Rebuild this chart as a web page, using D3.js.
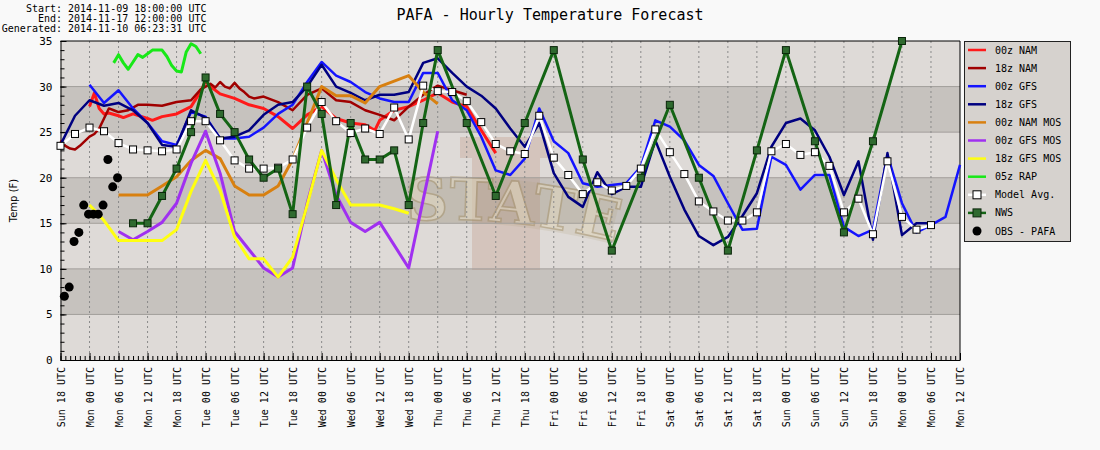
<!DOCTYPE html>
<html lang="en">
<head>
<meta charset="utf-8">
<title>PAFA - Hourly Temperature Forecast</title>
<script src="https://cdn.jsdelivr.net/npm/d3@7/dist/d3.min.js"></script>
<style>
  body { margin: 0; background: #f9f9f9; }
  svg { display: block; }
</style>
</head>
<body>
<svg width="1100" height="450" id="mainsvg"></svg>
<script>
// hours counted from Sun 18 UTC (2014-11-09 18:00)
const tickLabels = ['Sun 18 UTC', 'Mon 00 UTC', 'Mon 06 UTC', 'Mon 12 UTC', 'Mon 18 UTC',
  'Tue 00 UTC', 'Tue 06 UTC', 'Tue 12 UTC', 'Tue 18 UTC', 'Wed 00 UTC', 'Wed 06 UTC',
  'Wed 12 UTC', 'Wed 18 UTC', 'Thu 00 UTC', 'Thu 06 UTC', 'Thu 12 UTC', 'Thu 18 UTC',
  'Fri 00 UTC', 'Fri 06 UTC', 'Fri 12 UTC', 'Fri 18 UTC', 'Sat 00 UTC', 'Sat 06 UTC',
  'Sat 12 UTC', 'Sat 18 UTC', 'Sun 00 UTC', 'Sun 06 UTC', 'Sun 12 UTC', 'Sun 18 UTC',
  'Mon 00 UTC', 'Mon 06 UTC', 'Mon 12 UTC'];
const yTicks = [0, 5, 10, 15, 20, 25, 30, 35];
const headerLabels = ['Start:', 'End:', 'Generated:'];
const headerValues = ['2014-11-09 18:00:00 UTC', '2014-11-17 12:00:00 UTC', '2014-11-10 06:23:31 UTC'];

// [hour, temp F]
const nam00 = [[6,27.8],[7,29.3],[8,27.6],[9,27.0],[10,27.1],[12,26.8],[13,26.6],[15,27.0],[18,26.5],
  [19,26.3],[21,26.7],[24,27.0],[27,27.8],[29,29.5],[30,30.6],[31,30.0],[33,29.2],[36,28.7],[39,28.0],
  [42,27.6],[45,26.7],[48,25.4],[51,26.9],[54,27.8],[57,26.5],[60,26.0],[63,25.8],[65,25.2],[66,26.3],
  [69,27.4],[72,27.8],[75,28.5],[78,29.3],[81,28.3],[84,27.8],[87,25.2],[90,22.7]];
const nam18 = [[0,24.1],[1,23.5],[2,23.2],[3,23.1],[4,23.5],[6,24.5],[7,24.8],[8,25.4],[9,26.5],[10,27.6],
  [11,27.4],[12,27.2],[14,27.4],[16,28.0],[18,28.0],[21,27.9],[24,28.3],[27,28.5],[29,29.7],[30,30.0],
  [31,30.3],[32,29.9],[33,30.5],[34,30.0],[35,29.8],[36,30.4],[37,29.8],[38,29.4],[39,28.9],[40,28.7],
  [42,28.9],[45,28.3],[48,27.4],[51,29.1],[54,29.8],[57,28.5],[60,28.3],[63,27.4],[66,26.9],[69,26.3],
  [72,27.8],[75,29.1],[78,30.1],[81,29.6],[84,29.1]];
const gfs00 = [[6,30.2],[9,28.2],[12,29.6],[15,27.6],[18,26.0],[21,24.0],[24,23.6],[27,27.2],[30,26.7],
  [33,24.3],[36,24.3],[39,24.5],[42,25.5],[45,27.0],[48,28.0],[51,30.5],[54,32.7],[57,31.2],[60,30.5],
  [63,29.4],[66,28.7],[69,28.3],[72,28.3],[75,31.5],[78,31.5],[81,28.5],[84,27.4],[87,24.5],[90,20.8],
  [93,20.3],[96,22.1],[99,27.6],[102,24.0],[105,22.7],[108,19.4],[111,19.0],[114,19.2],[117,19.4],
  [120,21.2],[123,26.3],[126,25.6],[129,24.1],[132,21.4],[135,20.2],[138,17.2],[141,14.3],[144,14.4],
  [147,22.3],[150,21.4],[153,18.7],[156,20.3],[159,20.3],[162,14.6],[165,13.6],[168,14.3],[171,22.5],
  [174,17.2],[177,14.0],[180,14.8],[183,15.7],[186,21.4]];
const gfs18 = [[0,23.6],[3,26.8],[6,28.5],[9,27.9],[12,28.2],[15,27.4],[18,26.0],[21,23.6],[24,23.4],
  [27,27.4],[30,26.6],[33,24.3],[36,24.5],[39,25.2],[42,26.9],[45,28.0],[48,28.3],[51,30.0],[54,32.4],
  [57,30.0],[60,29.3],[63,28.5],[66,29.1],[69,29.1],[72,29.4],[75,32.6],[78,33.1],[81,31.5],[84,30.0],
  [87,29.0],[90,27.6],[93,25.4],[96,23.4],[99,26.0],[102,20.5],[105,17.9],[108,16.8],[111,20.6],
  [114,18.2],[117,19.0],[120,19.0],[123,24.1],[126,20.1],[129,16.5],[132,13.6],[135,12.6],[138,13.5],
  [141,15.8],[144,18.3],[147,23.4],[150,26.0],[153,26.5],[156,25.2],[159,22.3],[162,18.1],[165,21.8],
  [168,13.2],[171,22.7],[174,13.7],[177,15.0],[180,15.0]];
const namMos00 = [[12,18.1],[15,18.1],[18,18.1],[21,19.1],[24,20.1],[27,21.9],[30,23.0],[33,22.1],
  [36,19.1],[39,18.1],[42,18.1],[45,19.1],[48,22.0],[51,26.0],[54,30.0],[57,29.0],[60,29.0],[63,28.2],
  [66,30.0],[69,30.6],[72,31.2],[75,29.4],[78,28.1]];
const gfsMos00 = [[12,14.1],[15,13.2],[18,14.1],[21,15.1],[24,17.2],[27,21.6],[30,25.1],[33,20.5],
  [36,14.1],[39,12.1],[42,10.1],[45,9.1],[48,10.1],[51,17.2],[54,23.0],[57,18.1],[60,15.1],[63,14.1],
  [66,15.1],[69,12.6],[72,10.1],[75,17.6],[78,25.1]];
const gfsMos18 = [[6,17.0],[9,15.3],[12,13.1],[15,13.1],[18,13.1],[21,13.1],[24,14.3],[27,18.5],
  [30,21.9],[33,18.6],[36,13.5],[39,11.1],[42,11.1],[45,9.1],[48,11.3],[51,17.0],[54,23.0],[57,19.8],
  [60,17.0],[63,17.0],[66,17.0],[69,16.6],[72,16.1]];
const rap05 = [[11,32.6],[12,33.5],[13,32.6],[14,31.9],[15,32.7],[16,33.5],[17,33.2],[18,33.6],[19,34.0],
  [20,34.0],[21,34.0],[22,33.3],[23,32.3],[24,31.7],[25,31.6],[26,33.8],[27,34.7],[28,34.4],[29,33.6]];
const modelAvg = [[0,23.5],[3,24.8],[6,25.5],[9,25.1],[12,23.8],[15,23.1],[18,23.0],[21,22.9],[24,23.1],
  [27,26.2],[30,26.2],[33,24.1],[36,21.9],[39,21.0],[42,21.0],[45,21.1],[48,22.0],[51,25.5],[54,28.3],
  [57,26.2],[60,24.9],[63,25.4],[66,24.8],[69,27.7],[72,24.2],[75,30.1],[78,29.5],[81,29.4],[84,28.4],
  [87,26.1],[90,23.7],[93,22.9],[96,22.6],[99,26.8],[102,22.2],[105,20.3],[108,18.2],[111,19.5],
  [114,18.6],[117,19.1],[120,21.0],[123,25.3],[126,22.8],[129,20.4],[132,17.4],[135,16.3],[138,15.3],
  [141,15.3],[144,16.2],[147,22.9],[150,23.7],[153,22.5],[156,22.8],[159,21.3],[162,16.2],[165,17.7],
  [168,13.8],[171,21.8],[174,15.7],[177,14.3],[180,14.8]];
const nws = [[15,15],[18,15],[21,18],[24,21],[27,25],[30,31],[33,27],[36,25],[39,22],[42,20],[45,21],
  [48,16],[51,30],[54,27],[57,17],[60,26],[63,22],[66,22],[69,23],[72,17],[75,26],[78,34],[84,26],
  [90,18],[96,26],[102,34],[108,22],[114,12],[120,20],[126,28],[132,20],[138,12],[144,23],[150,34],
  [156,24],[162,14],[168,24],[174,35]];
const obs = [[0.8,7],[1.8,8],[2.8,13],[3.8,14],[4.8,17],[5.8,16],[6.8,16],[7.8,16],[8.8,17],[9.8,22],
  [10.8,19],[11.8,20]];

const legendNames = ['00z NAM', '18z NAM', '00z GFS', '18z GFS', '00z NAM MOS', '00z GFS MOS',
  '18z GFS MOS', '05z RAP', 'Model Avg.', 'NWS', 'OBS - PAFA'];
const lineSeries = [nam00, nam18, gfs00, gfs18, namMos00, gfsMos00, gfsMos18, rap05];
const lineColors = ['#ff1a1a', '#a00000', '#1414ff', '#000080', '#d88010', '#a030f0', '#ffff10', '#18e818'];
const lineWidths = [3, 2.5, 2.5, 2.5, 3, 3, 3, 3];

const svg = d3.select('#mainsvg');
const margin = { top: 41, left: 60.5 };
const plotRight = 960, plotBottom = 360;

const x = d3.scaleLinear().domain([0, 186]).range([margin.left, plotRight]);
const y = d3.scaleLinear().domain([0, 35]).range([plotBottom, margin.top]);

// header text
const mono = 'DejaVu Sans Mono, monospace';
headerLabels.forEach((t, i) => {
  svg.append('text').text(t).attr('x', 62).attr('y', 11.5 + i * 10)
    .attr('text-anchor', 'end').attr('font-family', mono).attr('font-size', 10);
  svg.append('text').text(headerValues[i]).attr('x', 68).attr('y', 11.5 + i * 10)
    .attr('font-family', mono).attr('font-size', 10);
});
svg.append('text').text('PAFA - Hourly Temperature Forecast')
  .attr('x', 550).attr('y', 19.5).attr('text-anchor', 'middle')
  .attr('font-family', mono).attr('font-size', 15);

// background bands
const g = svg.append('g');
d3.range(0, 35, 5).forEach((v, i) => {
  g.append('rect')
    .attr('x', x(0)).attr('width', x(186) - x(0))
    .attr('y', y(v + 5)).attr('height', y(v) - y(v + 5))
    .attr('fill', i % 2 === 1 ? '#c6c2be' : '#dedad7');
});

// faded logo watermark
const wm = g.append('g');
wm.append('path')
  .attr('d', 'M460,137 L552,137 L552,158 L540,158 L540,270 L472,270 L472,158 L460,158 Z')
  .attr('fill', '#b07860').attr('opacity', 0.22);
wm.append('path').attr('d', 'M408,201 Q505,194 615,221').attr('fill', 'none')
  .attr('stroke', '#b6a584').attr('stroke-width', 46).attr('opacity', 0.2);
wm.append('path').attr('id', 'wmarc').attr('fill', 'none')
  .attr('d', 'M406,221 Q505,214 617,242');
wm.append('text')
  .attr('font-family', 'DejaVu Serif, serif').attr('font-weight', 'bold').attr('font-size', 58)
  .attr('fill', '#e6dcc4').attr('stroke', '#a38f66').attr('stroke-width', 1.6).attr('opacity', 0.5)
  .append('textPath').attr('href', '#wmarc').attr('startOffset', '50%').attr('text-anchor', 'middle')
  .text('STATE');

// band boundary lines
yTicks.slice(1, -1).forEach(v => {
  g.append('line').attr('x1', x(0)).attr('x2', x(186)).attr('y1', y(v)).attr('y2', y(v))
    .attr('stroke', '#a29e9a').attr('stroke-width', 1);
});
// vertical grid
d3.range(6, 186, 6).forEach(h => {
  g.append('line').attr('x1', x(h)).attr('x2', x(h)).attr('y1', y(35)).attr('y2', y(0))
    .attr('stroke', '#8a8a8a').attr('stroke-width', 1).attr('stroke-dasharray', '2,3');
});

// axes
const xMinor = d3.axisBottom(x).tickValues(d3.range(0, 187, 1)).tickSizeInner(-4).tickSizeOuter(0).tickFormat('');
svg.append('g').attr('transform', `translate(0,${plotBottom})`).call(xMinor)
  .call(a => a.select('.domain').remove());
const xAxis = d3.axisBottom(x).tickValues(d3.range(0, 187, 6)).tickSizeInner(-7).tickSizeOuter(0)
  .tickFormat((d, i) => tickLabels[i]);
const xg = svg.append('g').attr('transform', `translate(0,${plotBottom})`).call(xAxis);
xg.selectAll('text')
  .attr('transform', 'rotate(-90)').attr('x', -7).attr('y', 0).attr('dy', '0.35em')
  .attr('text-anchor', 'end').attr('font-family', mono).attr('font-size', 10).attr('fill', '#000');

const yMinor = d3.axisLeft(y).tickValues(d3.range(0, 36, 1)).tickSizeInner(-4).tickSizeOuter(0).tickFormat('');
svg.append('g').attr('transform', `translate(${margin.left},0)`).call(yMinor)
  .call(a => a.select('.domain').remove());
const yAxis = d3.axisLeft(y).tickValues(yTicks).tickSizeInner(-6).tickSizeOuter(0).tickPadding(8);
svg.append('g').attr('transform', `translate(${margin.left},0)`).call(yAxis)
  .selectAll('text').attr('font-family', mono).attr('font-size', 11).attr('fill', '#000');
svg.selectAll('.tick line').attr('stroke', '#000');

// frame top/right
svg.append('line').attr('x1', x(0)).attr('x2', x(186)).attr('y1', y(35)).attr('y2', y(35)).attr('stroke', '#000');
svg.append('line').attr('x1', x(186)).attr('x2', x(186)).attr('y1', y(35)).attr('y2', y(0)).attr('stroke', '#000');

svg.append('text').text('Temp (F)')
  .attr('transform', `translate(17,${(y(0) + y(35)) / 2}) rotate(-90)`)
  .attr('text-anchor', 'middle').attr('font-family', 'DejaVu Sans, sans-serif').attr('font-size', 10);

// series
const line = d3.line().x(d => x(d[0])).y(d => y(d[1]));
const lines = svg.append('g').attr('fill', 'none').attr('stroke-linejoin', 'round');
lineSeries.forEach((s, i) => {
  lines.append('path').attr('d', line(s))
    .attr('stroke', lineColors[i]).attr('stroke-width', lineWidths[i]);
});

lines.append('path').attr('d', line(modelAvg)).attr('stroke', '#ffffff').attr('stroke-width', 2.5);
svg.append('g').selectAll('rect').data(modelAvg).join('rect')
  .attr('x', d => x(d[0]) - 3.5).attr('y', d => y(d[1]) - 3.5)
  .attr('width', 7).attr('height', 7).attr('fill', '#fff').attr('stroke', '#000').attr('stroke-width', 1);

lines.append('path').attr('d', line(nws)).attr('stroke', '#146414').attr('stroke-width', 3);
svg.append('g').selectAll('rect').data(nws).join('rect')
  .attr('x', d => x(d[0]) - 3.5).attr('y', d => y(d[1]) - 3.5)
  .attr('width', 7).attr('height', 7).attr('fill', '#2f6a2f').attr('stroke', '#0a250a').attr('stroke-width', 1);

svg.append('g').selectAll('circle').data(obs).join('circle')
  .attr('cx', d => x(d[0])).attr('cy', d => y(d[1])).attr('r', 4.5).attr('fill', '#000');

// legend
const lg = svg.append('g').attr('transform', 'translate(964,41)');
lg.append('rect').attr('x', 0.5).attr('y', 0.5).attr('width', 106).attr('height', 200)
  .attr('fill', '#d6d2ce').attr('stroke', '#222').attr('stroke-width', 1);
legendNames.forEach((name, i) => {
  const ry = 9 + i * 18.1;
  const row = lg.append('g').attr('transform', `translate(0,${ry})`);
  if (i < lineColors.length) {
    row.append('line').attr('x1', 4).attr('x2', 22).attr('y1', 0).attr('y2', 0)
      .attr('stroke', lineColors[i]).attr('stroke-width', 2.5);
  } else if (name === 'Model Avg.') {
    row.append('line').attr('x1', 4).attr('x2', 22).attr('y1', 0).attr('y2', 0)
      .attr('stroke', '#fff').attr('stroke-width', 2.5);
    row.append('rect').attr('x', 9).attr('y', -4).attr('width', 8).attr('height', 8)
      .attr('fill', '#fff').attr('stroke', '#000');
  } else if (name === 'NWS') {
    row.append('line').attr('x1', 4).attr('x2', 22).attr('y1', 0).attr('y2', 0)
      .attr('stroke', '#146414').attr('stroke-width', 2.5);
    row.append('rect').attr('x', 9).attr('y', -4).attr('width', 8).attr('height', 8)
      .attr('fill', '#2f6a2f').attr('stroke', '#0a250a');
  } else {
    row.append('circle').attr('cx', 13).attr('cy', 0).attr('r', 4.5).attr('fill', '#000');
  }
  row.append('text').text(name).attr('x', 31).attr('y', 0).attr('dy', '0.35em')
    .attr('font-family', mono).attr('font-size', 10).attr('fill', '#000');
});
</script>
</body>
</html>
